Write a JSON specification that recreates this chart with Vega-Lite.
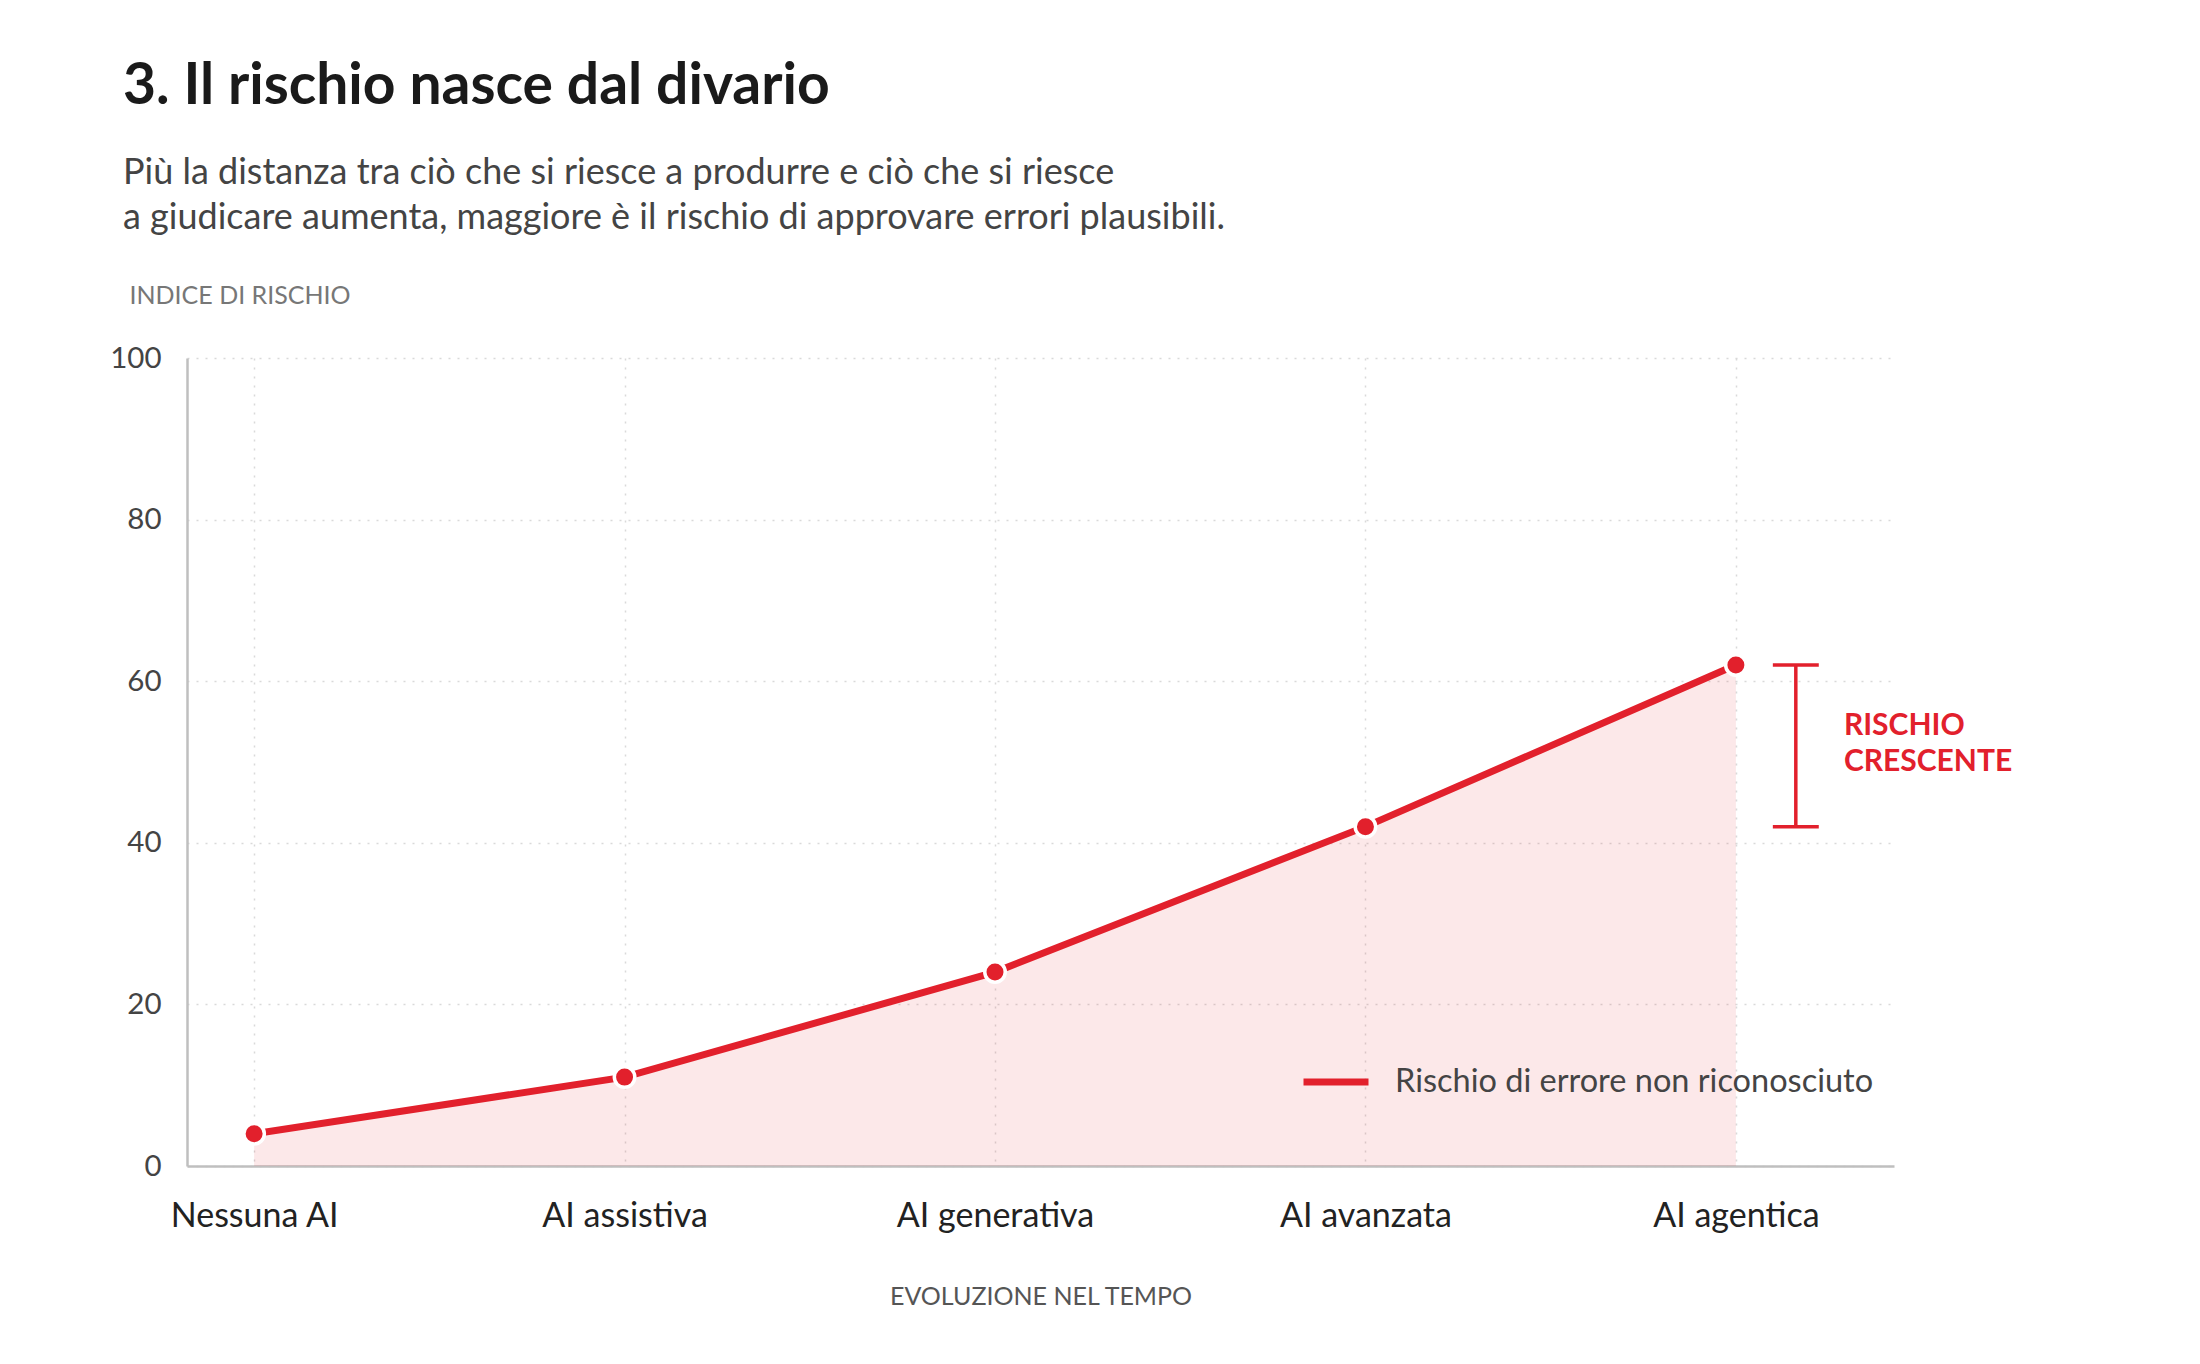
{
  "$schema": "https://vega.github.io/schema/vega-lite/v6.json",
  "width": 1707,
  "height": 808,
  "autosize": {"type": "none"},
  "padding": {"left": 187, "top": 358, "right": 306, "bottom": 198},
  "background": "white",
  "title": {
    "text": "3. Il rischio nasce dal divario",
    "subtitle": ["Più la distanza tra ciò che si riesce a produrre e ciò che si riesce", "a giudicare aumenta, maggiore è il rischio di approvare errori plausibili."],
    "anchor": "start",
    "frame": "group",
    "dx": -64,
    "offset": 46,
    "font": "Lato",
    "fontSize": 57,
    "fontWeight": "bold",
    "color": "#1a1a1a",
    "subtitleFont": "Lato",
    "subtitleFontSize": 36,
    "subtitleColor": "#444444",
    "subtitleLineHeight": 45,
    "subtitlePadding": 40
  },
  "datasets": {
    "serie": [
      {"fase": "Nessuna AI", "rischio": 4, "serie": "Rischio di errore non riconosciuto"},
      {"fase": "AI assistiva", "rischio": 11, "serie": "Rischio di errore non riconosciuto"},
      {"fase": "AI generativa", "rischio": 24, "serie": "Rischio di errore non riconosciuto"},
      {"fase": "AI avanzata", "rischio": 42, "serie": "Rischio di errore non riconosciuto"},
      {"fase": "AI agentica", "rischio": 62, "serie": "Rischio di errore non riconosciuto"}
    ],
    "staffa": [
      {"x": 4.161, "x2": 4.161, "y": 42, "y2": 62},
      {"x": 4.099, "x2": 4.223, "y": 62, "y2": 62},
      {"x": 4.099, "x2": 4.223, "y": 42, "y2": 42}
    ],
    "nota": [
      {"x": 4.368, "y": 54.4, "label": "RISCHIO CRESCENTE"}
    ]
  },
  "config": {
    "font": "Lato",
    "view": {"stroke": null},
    "axis": {
      "domainColor": "#bfbfbf",
      "domainWidth": 2.5,
      "ticks": false,
      "gridColor": "#d9d9d9",
      "gridDash": [2, 7],
      "gridWidth": 1.5,
      "labelFont": "Lato",
      "titleFont": "Lato",
      "labelLimit": 0
    }
  },
  "resolve": {"scale": {"x": "independent"}},
  "layer": [
    {
      "data": {"name": "serie"},
      "layer": [
        {
          "mark": {"type": "area", "color": "#e2202c", "opacity": 0.1},
          "encoding": {
            "x": {
              "field": "fase",
              "type": "ordinal",
              "sort": null,
              "scale": {"type": "point", "padding": 0.304, "align": 0.298},
              "axis": {
                "title": "EVOLUZIONE NEL TEMPO",
                "titleFontSize": 25,
                "titleFontWeight": "normal",
                "titleColor": "#555555",
                "titlePadding": 51,
                "labelFontSize": 34,
                "labelColor": "#222222",
                "labelPadding": 33,
                "labelAngle": 0,
                "labelLimit": 0,
                "grid": true
              }
            },
            "y": {
              "field": "rischio",
              "type": "quantitative",
              "scale": {"domain": [0, 100], "nice": false},
              "axis": {
                "values": [0, 20, 40, 60, 80, 100],
                "title": "INDICE DI RISCHIO",
                "titleAngle": 0,
                "titleAlign": "left",
                "titleBaseline": "middle",
                "titleX": -58,
                "titleY": -63,
                "titleFontSize": 25,
                "titleFontWeight": "normal",
                "titleColor": "#777777",
                "labelFontSize": 29.5,
                "labelColor": "#444444",
                "labelPadding": 26,
                "grid": true
              }
            }
          }
        },
        {
          "mark": {"type": "line", "strokeWidth": 7},
          "encoding": {
            "x": {"field": "fase", "type": "ordinal", "sort": null},
            "y": {"field": "rischio", "type": "quantitative"},
            "color": {
              "field": "serie",
              "type": "nominal",
              "scale": {"range": ["#e2202c"]},
              "legend": {
                "title": null,
                "orient": "none",
                "legendX": 1113,
                "legendY": 688,
                "padding": 0,
                "symbolType": "stroke",
                "symbolStrokeWidth": 7,
                "symbolSize": 4225,
                "labelFontSize": 32.5,
                "labelColor": "#444444",
                "labelFont": "Lato",
                "labelOffset": 23,
                "labelLimit": 0
              }
            }
          }
        },
        {
          "mark": {"type": "point", "filled": true, "size": 420, "color": "#e2202c", "stroke": "white", "strokeWidth": 3.5, "opacity": 1},
          "encoding": {
            "x": {"field": "fase", "type": "ordinal", "sort": null},
            "y": {"field": "rischio", "type": "quantitative"}
          }
        }
      ]
    },
    {
      "data": {"name": "staffa"},
      "mark": {"type": "rule", "color": "#e2202c", "strokeWidth": 3.5},
      "encoding": {
        "x": {"field": "x", "type": "quantitative", "scale": {"domain": [-0.181, 4.426], "nice": false, "zero": false}, "axis": null},
        "x2": {"field": "x2"},
        "y": {"field": "y", "type": "quantitative"},
        "y2": {"field": "y2"}
      }
    },
    {
      "data": {"name": "nota"},
      "mark": {"type": "text", "color": "#e2202c", "fontSize": 30, "fontWeight": "bold", "align": "left", "baseline": "middle", "lineBreak": " ", "lineHeight": 36},
      "encoding": {
        "x": {"field": "x", "type": "quantitative", "axis": null},
        "y": {"field": "y", "type": "quantitative"},
        "text": {"field": "label"}
      }
    }
  ]
}
